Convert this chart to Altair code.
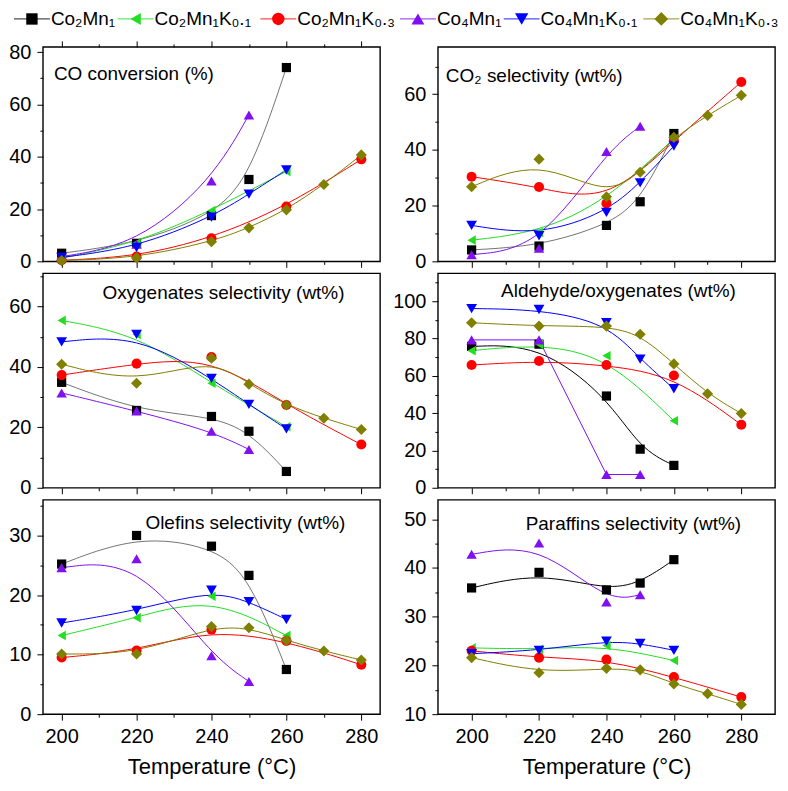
import altair as alt
import pandas as pd

FONT = "Liberation Sans"

SERIES = ["Co₂Mn₁", "Co₂Mn₁K₀.₁", "Co₂Mn₁K₀.₃", "Co₄Mn₁", "Co₄Mn₁K₀.₁", "Co₄Mn₁K₀.₃"]
COLORS = ["#000000", "#22dd22", "#ff0000", "#8010f0", "#0000ff", "#808000"]
SHAPES = ["square", "triangle-left", "circle", "triangle-up", "triangle-down", "diamond"]
SIZES = [85, 125, 95, 125, 125, 130]
LEG_SIZES = [130, 190, 150, 190, 190, 200]

# temperatures measured for each catalyst
T_CO2MN1 = [200, 220, 240, 250, 260]
T_CO2MN1K01 = [200, 220, 240, 260]
T_CO2MN1K03 = [200, 220, 240, 260, 280]
T_CO4MN1 = [200, 220, 240, 250]
T_CO4MN1K01 = [200, 220, 240, 250, 260]
T_CO4MN1K03 = [200, 220, 240, 250, 260, 270, 280]
TEMPS = [T_CO2MN1, T_CO2MN1K01, T_CO2MN1K03, T_CO4MN1, T_CO4MN1K01, T_CO4MN1K03]

co_conversion = [
    [3.1, 6.9, 17.5, 31.3, 74.1],
    [1.2, 7.0, 19.4, 34.4],
    [0.4, 1.8, 8.8, 21.0, 39.0],
    [1.8, 6.5, 30.7, 56.0],
    [1.5, 5.3, 16.9, 25.7, 35.0],
    [0.3, 1.3, 7.5, 12.8, 19.7, 29.4, 40.7],
]
co2_selectivity = [
    [4.1, 5.5, 12.9, 21.4, 45.9],
    [7.6, 10.4, 21.8, 44.0],
    [30.4, 26.7, 20.8, 43.3, 64.4],
    [2.4, 4.7, 39.4, 48.5],
    [12.9, 9.2, 17.6, 28.2, 41.4],
    [26.8, 36.7, 23.2, 32.0, 44.5, 52.4, 59.6],
]
oxygenates = [
    [34.9, 25.6, 23.6, 18.7, 5.4],
    [55.4, 50.8, 34.6, 20.2],
    [37.3, 41.1, 43.3, 27.4, 14.3],
    [31.4, 25.4, 18.7, 12.7],
    [48.3, 50.8, 36.2, 27.6, 19.5],
    [40.9, 34.6, 42.9, 34.3, 27.4, 23.0, 19.3],
]
aldehyde = [
    [75.8, 77.0, 49.2, 20.7, 12.0],
    [73.5, 77.0, 70.8, 35.9],
    [65.8, 68.0, 65.8, 60.2, 33.8],
    [79.3, 79.3, 7.1, 7.1],
    [96.1, 95.6, 88.5, 69.0, 53.1],
    [88.5, 86.7, 86.7, 82.3, 66.4, 50.4, 39.8],
]
olefins = [
    [25.2, 30.0, 28.2, 23.3, 7.5],
    [13.2, 16.2, 19.8, 13.2],
    [9.5, 10.7, 14.2, 12.3, 8.3],
    [24.6, 26.1, 9.8, 5.5],
    [15.3, 17.4, 20.8, 18.9, 15.9],
    [10.1, 10.1, 14.7, 14.5, 12.4, 10.6, 9.1],
]
paraffins = [
    [35.9, 39.1, 35.5, 36.9, 41.7],
    [23.6, 23.3, 24.1, 21.0],
    [23.0, 21.6, 21.2, 17.6, 13.5],
    [42.8, 45.1, 33.0, 34.5],
    [22.4, 23.1, 25.0, 24.5, 23.1],
    [21.6, 18.5, 19.4, 19.1, 16.2, 14.2, 12.0],
]

W, H = 338, 215
LEG_X = [-11, 93, 236, 376, 480, 620]
LEG_Y = -28

color_scale = alt.Scale(domain=SERIES, range=COLORS)
shape_scale = alt.Scale(domain=SERIES, range=SHAPES)
size_scale = alt.Scale(domain=SERIES, range=SIZES)
leg_size_scale = alt.Scale(domain=SERIES, range=LEG_SIZES)


def make_df(values):
    rows = []
    for name, temps, vals in zip(SERIES, TEMPS, values):
        for t, v in zip(temps, vals):
            rows.append({"series": name, "T": t, "v": v})
    return pd.DataFrame(rows)


def tick_cond(major):
    return {"condition": {"test": f"datum.value % {major} === 0", "value": 6}, "value": 3}


def y_axis(lo, hi, minor, major):
    vals = list(range(lo, hi + 1, minor))
    return alt.Axis(values=vals, labelExpr=f"datum.value % {major} === 0 ? datum.label : ''",
                    tickSize=tick_cond(major), grid=False, domain=False, title=None,
                    labelFontSize=20, labelPadding=6, tickColor="black", labelColor="black")


def x_axis(bottom):
    vals = list(range(200, 281, 10))
    if bottom:
        return alt.Axis(values=vals, labelExpr="datum.value % 20 === 0 ? datum.label : ''",
                        tickSize=tick_cond(20), grid=False, domain=False,
                        title="Temperature (°C)", titleFontSize=22, titleFontWeight="normal",
                        titlePadding=10, labelFontSize=20, labelPadding=6,
                        tickColor="black", labelColor="black", titleColor="black")
    return alt.Axis(values=vals, labels=False, tickSize=tick_cond(20), grid=False,
                    domain=False, title=None, tickColor="black")


def panel(values, label, lx, ly, talign, ydom, ystep, ymajor, xdom, bottom,
          thick=False, linear_purple=False, with_legend=False):
    df = make_df(values)
    base = alt.Chart(df)
    x = alt.X("T:Q", scale=alt.Scale(domain=xdom, nice=False, zero=False), axis=x_axis(bottom))
    y = alt.Y("v:Q", scale=alt.Scale(domain=ydom, nice=False, zero=False),
              axis=y_axis(ydom[0], int(ydom[1]), ystep, ymajor))
    col = alt.Color("series:N", scale=color_scale, legend=None)
    enc = dict(x=x, y=y, color=col, detail="series:N")
    if thick:
        enc["strokeWidth"] = alt.condition(alt.datum.series == SERIES[0], alt.value(2.2), alt.value(1))
    else:
        enc["strokeOpacity"] = alt.condition(alt.datum.series == SERIES[0], alt.value(0.55), alt.value(1))
    smooth = base.mark_line(interpolate="basis", strokeWidth=1)
    layers = []
    if linear_purple:
        layers.append(smooth.transform_filter(alt.datum.series != SERIES[3]).encode(**enc))
        layers.append(base.transform_filter(alt.datum.series == SERIES[3])
                      .mark_line(interpolate="linear", strokeWidth=1).encode(**enc))
    else:
        layers.append(smooth.encode(**enc))
    pts = base.mark_point(filled=True, opacity=1).encode(
        x=x, y=y, color=col,
        shape=alt.Shape("series:N", scale=shape_scale, legend=None),
        size=alt.Size("series:N", scale=size_scale, legend=None))
    layers.append(pts)
    txt = alt.Chart(pd.DataFrame({"t": [label]})).mark_text(
        align=talign, baseline="middle", fontSize=19, font=FONT, color="black"
    ).encode(x=alt.value(lx), y=alt.value(ly), text="t:N")
    layers.append(txt)
    if with_legend:
        leg = alt.Chart(pd.DataFrame({"series": SERIES, "i": list(range(len(SERIES)))}))
        lxe = alt.X("i:Q", scale=alt.Scale(domain=list(range(len(SERIES))), range=LEG_X), axis=None)
        lcol = alt.Color("series:N", scale=color_scale, legend=None)
        layers.append(leg.mark_tick(orient="horizontal", size=36, thickness=1.2).encode(
            x=lxe, y=alt.value(LEG_Y), color=lcol))
        layers.append(leg.mark_point(filled=True, opacity=1).encode(
            x=lxe, y=alt.value(LEG_Y), color=lcol,
            shape=alt.Shape("series:N", scale=shape_scale, legend=None),
            size=alt.Size("series:N", scale=leg_size_scale, legend=None)))
        layers.append(leg.mark_text(align="left", baseline="middle", dx=19, fontSize=19,
                                    font=FONT, color="black").encode(
            x=lxe, y=alt.value(LEG_Y), text="series:N"))
    ch = alt.layer(*layers).properties(width=W, height=H)
    if with_legend:
        ch = ch.resolve_scale(x="independent", size="independent")
    return ch


LEFT_X = [195, 285]
RIGHT_X = [190, 290]

p1 = panel(co_conversion, "CO conversion (%)", 11, 27, "left", [0, 82], 10, 20, LEFT_X, False,
           with_legend=True)
p2 = panel(co2_selectivity, "CO₂ selectivity (wt%)", 8, 29, "left", [0, 77], 10, 20, RIGHT_X, False)
p3 = panel(oxygenates, "Oxygenates selectivity (wt%)", 181, 20, "center", [0, 71], 10, 20, LEFT_X, False)
p4 = panel(aldehyde, "Aldehyde/oxygenates (wt%)", 181, 18, "center", [0, 115], 10, 20, RIGHT_X, False,
           thick=True, linear_purple=True)
p5 = panel(olefins, "Olefins selectivity (wt%)", 203, 23, "center", [0, 36], 5, 10, LEFT_X, True)
p6 = panel(paraffins, "Paraffins selectivity (wt%)", 196, 24, "center", [10, 54], 5, 10, RIGHT_X, True,
           thick=True)

chart = alt.concat(p1, p2, p3, p4, p5, p6, columns=2, spacing={"row": 12, "column": 58},
                   bounds="flush").properties(padding=0).configure(font=FONT).configure_view(
    stroke="black", strokeWidth=1.4)

chart.save("out.html", embed_options={"renderer": "svg", "actions": False})
